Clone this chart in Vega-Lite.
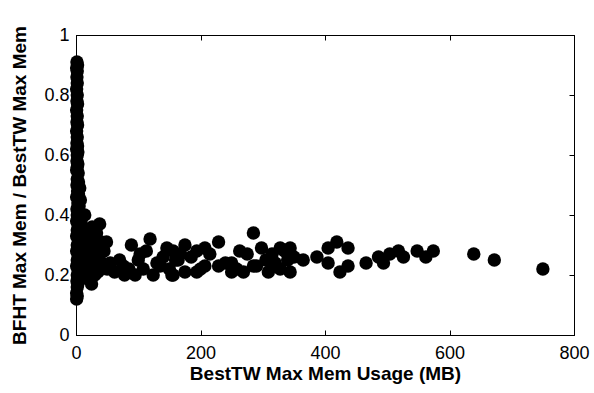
{
  "$schema": "https://vega.github.io/schema/vega-lite/v6.json",
  "width": 498,
  "height": 300,
  "autosize": "none",
  "padding": {"left": 76, "top": 35, "right": 20, "bottom": 58},
  "background": "white",
  "config": {
    "view": {"stroke": "black", "strokeWidth": 1},
    "axis": {
      "font": "Liberation Sans",
      "labelFont": "Liberation Sans",
      "titleFont": "Liberation Sans",
      "labelFontSize": 18,
      "titleFontSize": 19,
      "titleFontWeight": "bold",
      "labelColor": "black",
      "titleColor": "black",
      "domainColor": "black",
      "tickColor": "black",
      "grid": false,
      "tickSize": -5,
      "tickWidth": 1
    }
  },
  "data": {"values": [
    {"x": 1.5, "y": 0.91}, {"x": 2.5, "y": 0.90}, {"x": 1.0, "y": 0.89}, {"x": 2.0, "y": 0.88}, {"x": 1.5, "y": 0.86},
    {"x": 2.0, "y": 0.84}, {"x": 1.0, "y": 0.82}, {"x": 2.0, "y": 0.80}, {"x": 1.5, "y": 0.78}, {"x": 2.5, "y": 0.77},
    {"x": 1.0, "y": 0.75}, {"x": 2.0, "y": 0.73}, {"x": 1.5, "y": 0.71}, {"x": 2.5, "y": 0.70}, {"x": 1.0, "y": 0.68},
    {"x": 2.0, "y": 0.66}, {"x": 1.5, "y": 0.64}, {"x": 2.5, "y": 0.63}, {"x": 1.0, "y": 0.62}, {"x": 3.0, "y": 0.61},
    {"x": 2.0, "y": 0.60}, {"x": 1.5, "y": 0.58}, {"x": 3.0, "y": 0.57}, {"x": 2.0, "y": 0.56}, {"x": 1.0, "y": 0.55},
    {"x": 3.5, "y": 0.54}, {"x": 2.0, "y": 0.52}, {"x": 4.0, "y": 0.51}, {"x": 1.5, "y": 0.50}, {"x": 6.0, "y": 0.49},
    {"x": 2.5, "y": 0.48}, {"x": 4.0, "y": 0.47}, {"x": 1.0, "y": 0.46}, {"x": 7.0, "y": 0.45}, {"x": 3.0, "y": 0.44},
    {"x": 5.0, "y": 0.43}, {"x": 1.5, "y": 0.42}, {"x": 4.0, "y": 0.41}, {"x": 2.0, "y": 0.40}, {"x": 5.5, "y": 0.39},
    {"x": 1.0, "y": 0.38}, {"x": 3.0, "y": 0.37}, {"x": 6.0, "y": 0.36}, {"x": 2.0, "y": 0.35}, {"x": 4.5, "y": 0.34},
    {"x": 1.0, "y": 0.33}, {"x": 3.5, "y": 0.32}, {"x": 6.0, "y": 0.31}, {"x": 2.0, "y": 0.30}, {"x": 4.0, "y": 0.29},
    {"x": 1.0, "y": 0.28}, {"x": 3.0, "y": 0.27}, {"x": 5.0, "y": 0.26}, {"x": 2.0, "y": 0.25}, {"x": 4.0, "y": 0.24},
    {"x": 1.0, "y": 0.23}, {"x": 3.0, "y": 0.22}, {"x": 5.0, "y": 0.21}, {"x": 2.0, "y": 0.20}, {"x": 4.0, "y": 0.19},
    {"x": 1.5, "y": 0.18}, {"x": 3.0, "y": 0.17}, {"x": 2.0, "y": 0.16}, {"x": 1.0, "y": 0.14}, {"x": 2.0, "y": 0.13},
    {"x": 1.0, "y": 0.12},
    {"x": 8, "y": 0.38}, {"x": 14, "y": 0.40}, {"x": 10, "y": 0.34}, {"x": 7, "y": 0.30}, {"x": 12, "y": 0.28},
    {"x": 18, "y": 0.33}, {"x": 20, "y": 0.25}, {"x": 22, "y": 0.22}, {"x": 25, "y": 0.17}, {"x": 15, "y": 0.19},
    {"x": 28, "y": 0.30}, {"x": 30, "y": 0.27}, {"x": 33, "y": 0.34}, {"x": 38, "y": 0.37}, {"x": 40, "y": 0.31},
    {"x": 42, "y": 0.24}, {"x": 45, "y": 0.28}, {"x": 49, "y": 0.31}, {"x": 50, "y": 0.22}, {"x": 55, "y": 0.24},
    {"x": 35, "y": 0.21}, {"x": 26, "y": 0.36}, {"x": 9, "y": 0.23}, {"x": 17, "y": 0.29}, {"x": 11, "y": 0.26},
    {"x": 5, "y": 0.32}, {"x": 8, "y": 0.27}, {"x": 12, "y": 0.22}, {"x": 15, "y": 0.31}, {"x": 20, "y": 0.35},
    {"x": 23, "y": 0.28}, {"x": 27, "y": 0.24}, {"x": 30, "y": 0.20}, {"x": 32, "y": 0.31}, {"x": 36, "y": 0.26},
    {"x": 8, "y": 0.19}, {"x": 19, "y": 0.21},
    {"x": 62, "y": 0.21}, {"x": 70, "y": 0.25}, {"x": 76, "y": 0.23}, {"x": 78, "y": 0.20}, {"x": 85, "y": 0.22},
    {"x": 89, "y": 0.30}, {"x": 95, "y": 0.20}, {"x": 100, "y": 0.25}, {"x": 103, "y": 0.27}, {"x": 108, "y": 0.22},
    {"x": 113, "y": 0.28}, {"x": 119, "y": 0.32}, {"x": 124, "y": 0.20}, {"x": 130, "y": 0.24}, {"x": 135, "y": 0.23},
    {"x": 140, "y": 0.26}, {"x": 146, "y": 0.29}, {"x": 150, "y": 0.22}, {"x": 154, "y": 0.20}, {"x": 160, "y": 0.25},
    {"x": 164, "y": 0.25}, {"x": 168, "y": 0.27},
    {"x": 156, "y": 0.20}, {"x": 156, "y": 0.28}, {"x": 175, "y": 0.30}, {"x": 175, "y": 0.21}, {"x": 194, "y": 0.21},
    {"x": 194, "y": 0.28}, {"x": 207, "y": 0.29}, {"x": 207, "y": 0.23}, {"x": 229, "y": 0.31}, {"x": 229, "y": 0.23},
    {"x": 250, "y": 0.21}, {"x": 250, "y": 0.24}, {"x": 263, "y": 0.28}, {"x": 269, "y": 0.21}, {"x": 285, "y": 0.34},
    {"x": 285, "y": 0.23}, {"x": 298, "y": 0.29}, {"x": 309, "y": 0.21}, {"x": 328, "y": 0.29}, {"x": 328, "y": 0.22},
    {"x": 344, "y": 0.29}, {"x": 344, "y": 0.21}, {"x": 365, "y": 0.25}, {"x": 387, "y": 0.26}, {"x": 405, "y": 0.29},
    {"x": 405, "y": 0.24}, {"x": 419, "y": 0.31}, {"x": 424, "y": 0.21}, {"x": 437, "y": 0.29}, {"x": 437, "y": 0.23},
    {"x": 466, "y": 0.24}, {"x": 486, "y": 0.26}, {"x": 494, "y": 0.24}, {"x": 504, "y": 0.27}, {"x": 518, "y": 0.28},
    {"x": 526, "y": 0.26}, {"x": 548, "y": 0.28}, {"x": 562, "y": 0.26}, {"x": 574, "y": 0.28}, {"x": 639, "y": 0.27},
    {"x": 672, "y": 0.25}, {"x": 750, "y": 0.22},
    {"x": 185, "y": 0.26}, {"x": 200, "y": 0.22}, {"x": 215, "y": 0.27}, {"x": 240, "y": 0.24}, {"x": 258, "y": 0.22},
    {"x": 275, "y": 0.27}, {"x": 290, "y": 0.23}, {"x": 305, "y": 0.25}, {"x": 315, "y": 0.27}, {"x": 320, "y": 0.24},
    {"x": 335, "y": 0.28}, {"x": 340, "y": 0.25}, {"x": 350, "y": 0.26}
  ]},
  "layer": [
    {
      "mark": {"type": "point", "shape": "circle", "filled": true, "color": "black", "opacity": 1, "size": 180, "clip": false},
      "encoding": {
        "x": {"field": "x", "type": "quantitative",
          "scale": {"domain": [0, 800], "nice": false, "zero": false},
          "axis": {"title": "BestTW Max Mem Usage (MB)", "values": [0, 200, 400, 600, 800], "labelPadding": 14, "titlePadding": 2, "labelFlush": false}},
        "y": {"field": "y", "type": "quantitative",
          "scale": {"domain": [0, 1], "nice": false},
          "axis": {"title": "BFHT Max Mem / BestTW Max Mem", "values": [0, 0.2, 0.4, 0.6, 0.8, 1], "labelPadding": 12, "titlePadding": 14, "labelFlush": false, "labelExpr": "datum.value == 0 ? '0' : datum.value == 1 ? '1' : datum.label"}}
      }
    },
    {
      "mark": {"type": "point", "opacity": 0},
      "encoding": {
        "x": {"field": "x", "type": "quantitative", "axis": {"orient": "top", "labels": false, "title": null, "values": [0, 200, 400, 600, 800]}},
        "y": {"field": "y", "type": "quantitative", "axis": {"orient": "right", "labels": false, "title": null, "values": [0, 0.2, 0.4, 0.6, 0.8, 1]}}
      }
    }
  ],
  "resolve": {"axis": {"x": "independent", "y": "independent"}}
}
